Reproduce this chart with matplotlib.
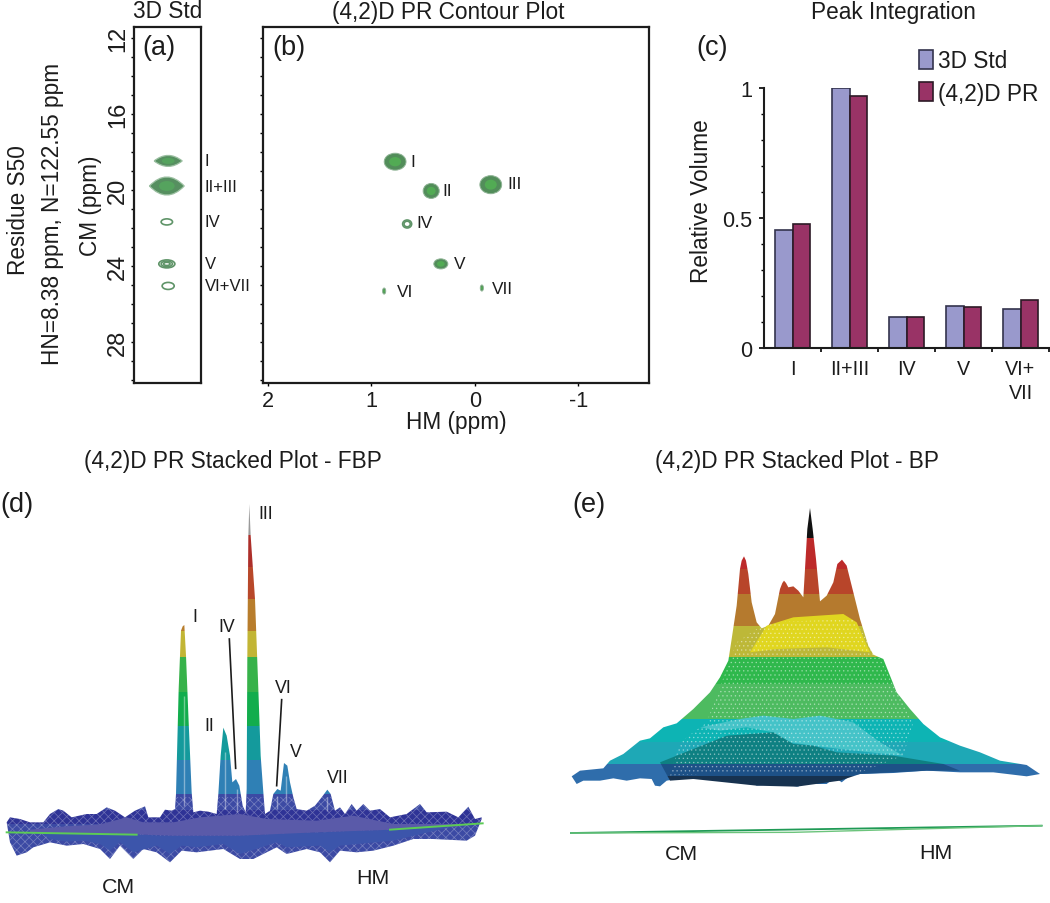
import matplotlib
matplotlib.use("Agg")
import matplotlib.pyplot as plt
from matplotlib.patches import Ellipse, PathPatch, Polygon, Rectangle
from matplotlib.path import Path

W, H = 1050, 904
plt.rcParams["font.family"] = ["Liberation Sans", "DejaVu Sans"]
plt.rcParams["hatch.linewidth"] = 0.5
INK = "#1c1c1c"

# panel (a), 3D standard: label, position, CM ppm, width, height in ppm, rings (0 = filled)
a_labels = ["I", "II+III", "IV", "V", "VI+VII"]
a_pos = [0.51, 0.49, 0.49, 0.49, 0.51]
a_cm = [18.47, 19.79, 21.68, 23.89, 25.05]
a_w = [0.42, 0.52, 0.17, 0.24, 0.18]
a_h = [0.58, 0.95, 0.32, 0.42, 0.37]
a_rings = [0, 0, 1, 3, 1]

# panel (b), (4,2)D PR peaks
b_labels = ["I", "II", "III", "IV", "V", "VI", "VII"]
b_hm = [0.769, 0.421, -0.154, 0.653, 0.328, 0.875, -0.068]
b_cm = [18.51, 20.05, 19.72, 21.79, 23.89, 25.32, 25.16]
b_w = [0.21, 0.155, 0.21, 0.087, 0.135, 0.03, 0.03]
b_h = [0.89, 0.79, 0.95, 0.42, 0.53, 0.32, 0.32]
b_rings = [0, 0, 0, 2, 0, 0, 0]
b_xticks = [2, 1, 0, -1]

# panel (c), peak integration
c_cats = ["I", "II+III", "IV", "V", "VI+\nVII"]
c_std = [0.455, 1.0, 0.118, 0.16, 0.15]
c_pr = [0.478, 0.97, 0.118, 0.157, 0.186]

# panel (d), FBP stack (position, screen level)
d_top_x = [20, 30, 60, 90, 130, 150, 175, 190, 215, 260, 290, 320, 345, 375, 405, 435, 445, 480, 495, 515,
           525, 528, 536, 543, 548, 553, 558, 566, 575, 580, 600, 625, 650, 655, 662, 670, 680, 690, 697, 708, 718,
           728, 737, 740, 742, 745, 748, 752, 765, 775, 782, 790, 795, 810, 820, 832, 842, 852, 862, 870, 880,
           890, 920, 945, 965, 982, 992, 1005, 1020, 1035, 1055, 1070, 1090, 1110, 1140, 1170, 1220, 1260, 1280,
           1340, 1375, 1405, 1425, 1445]
d_top_y = [1000, 985, 990, 1000, 1000, 975, 960, 965, 985, 975, 975, 955, 965, 985, 965, 952, 985, 985, 962, 965,
           960, 915, 600, 425, 412, 408, 500, 700, 910, 970, 965, 968, 975, 915, 800, 716, 740, 800, 880, 870, 890,
           950, 970, 900, 500, 140, 45, 140, 330, 600, 800, 910, 975, 965, 915, 900, 905, 822, 830, 880, 925,
           960, 965, 950, 925, 902, 915, 965, 955, 975, 945, 965, 945, 965, 960, 985, 975, 945, 970,
           968, 985, 953, 990, 985]
d_bot_x = [1445, 1425, 1400, 1300, 1240, 1180, 1120, 1070, 1020, 990, 960, 920, 860, 830, 800, 760, 720, 670, 630,
           590, 545, 510, 470, 430, 400, 360, 330, 300, 250, 200, 150, 100, 80, 50, 30, 20]
d_bot_y = [990, 1040, 1055, 1050, 1050, 1070, 1085, 1090, 1085, 1120, 1090, 1080, 1095, 1075, 1090, 1110, 1110, 1080, 1085,
           1090, 1085, 1120, 1090, 1080, 1110, 1070, 1110, 1080, 1065, 1070, 1060, 1075, 1090, 1100, 1060, 1000]
d_band_edges = [45, 138, 235, 330, 425, 505, 610, 712, 812, 915, 962, 1005, 1130]
d_band_cols = ["#9a9a9a", "#ad2f2a", "#b8482a", "#b87d2c", "#c2b535", "#37b24a", "#12ad4d", "#149a9c", "#2f80b5",
               "#3c4aa4", "#2f3396", "#3c4aa4"]
d_mid_x = [90, 200, 300, 380, 430, 520, 600, 720, 800, 950, 1060, 1180, 1380, 1380, 1180, 950, 720, 520, 380, 200, 90]
d_mid_y = [1022, 1012, 1006, 985, 1000, 1000, 985, 975, 990, 995, 980, 1005, 1005, 1012, 1022, 1030, 1040, 1040, 1035, 1032, 1030]
d_low_x = [120, 230, 290, 380, 420, 480, 520, 590, 650, 700, 760, 830, 900, 970, 1040, 1180, 1360,
           1180, 1020, 990, 960, 860, 830, 800, 720, 670, 590, 545, 510, 470, 400, 360, 330, 300, 250, 200, 150]
d_low_y = [1030, 1032, 1033, 1035, 1037, 1040, 1040, 1040, 1040, 1040, 1038, 1034, 1030, 1030, 1026, 1022, 1012,
           1055, 1070, 1090, 1070, 1075, 1060, 1070, 1095, 1065, 1075, 1070, 1095, 1070, 1090, 1060, 1085, 1065, 1055, 1058, 1050]
d_streak_x = [551, 674, 712, 832, 858, 982]
d_streak_top = [620, 790, 900, 920, 860, 925]
d_streak_bot = [950, 960, 970, 960, 940, 965]

# panel (e), BP stack
e_top_x = [35, 60, 130, 150, 190, 240, 270, 310, 350, 400, 450, 480, 505, 515, 530, 540, 545, 552, 558, 565, 575, 590, 605,
           625, 645, 660, 667, 672, 678, 685, 700, 715, 730, 735, 742, 750, 758, 768, 780, 800, 820, 832, 846, 860, 875, 900,
           925, 940, 970, 990, 1010, 1050, 1090, 1140, 1200, 1260, 1320, 1400, 1440]
e_top_y = [862, 845, 838, 815, 795, 755, 748, 715, 703, 660, 610, 565, 515, 450, 350, 240, 215, 202, 215, 255, 340, 400, 418,
           410, 375, 300, 282, 275, 282, 295, 292, 305, 325, 240, 120, 57, 120, 210, 337, 320, 280, 225, 212, 230, 290, 390,
           470, 497, 510, 560, 610, 660, 705, 745, 770, 790, 815, 828, 855]
e_bot_x = [1440, 1400, 1300, 1200, 1100, 1000, 900, 870, 845, 825, 800, 770, 745, 715, 680, 640, 590, 575, 530, 480, 440, 410,
           395, 360, 320, 300, 285, 275, 240, 200, 160, 120, 70, 50, 35]
e_bot_y = [855, 862, 850, 850, 845, 852, 855, 860, 880, 865, 885, 885, 855, 893, 888, 885, 890, 880, 868, 860, 868, 868,
           860, 868, 875, 892, 890, 870, 868, 875, 868, 875, 875, 885, 862]
e_band_edges = [57, 148, 240, 315, 410, 505, 585, 690, 760, 825, 900]
e_band_cols = ["#111111", "#bd2a2a", "#b8452a", "#b57a2e", "#bdb838", "#2fb84c", "#4dbb60", "#0db4b4", "#1ea8b6", "#2f6dab"]
e_front_x = [300, 400, 500, 640, 700, 760, 830, 1000, 1150, 1200, 1100, 900, 840, 710, 590, 400, 330]
e_front_y = [820, 780, 740, 730, 765, 770, 790, 800, 825, 845, 845, 855, 875, 893, 890, 870, 875]
e_front_edges = [700, 825, 860, 900]
e_front_cols = ["#0e8082", "#1d5187", "#17324f"]
e_yellow_x = [570, 620, 700, 850, 890, 930, 800, 650]
e_yellow_y = [490, 410, 385, 375, 400, 490, 475, 480]
e_glow_x = [420, 540, 610, 700, 780, 880, 960, 1030, 930, 840, 760, 690, 640, 560, 480]
e_glow_y = [715, 690, 680, 690, 680, 700, 760, 800, 790, 780, 770, 760, 730, 715, 725]
e_mesh_x = [530, 620, 880, 960, 1060, 1030, 900, 420, 330, 360, 440]
e_mesh_y = [460, 400, 390, 510, 700, 800, 850, 855, 860, 760, 700]


def px_axes(x0, y0, x1, y1):
    # axes placed by the pixel box it has in the figure
    return fig.add_axes([x0 / W, 1 - y1 / H, (x1 - x0) / W, (y1 - y0) / H])


def label(x, y, s, size=16.3, **kw):
    kw.setdefault("ha", "center")
    fig.text(x / W, 1 - y / H, s, fontsize=size, color=INK, va="center", **kw)


def lens(x, y, w, h, **kw):
    # pointed ended blob, the shape of the strong contour peaks
    verts = [(x - w / 2, y), (x, y - h), (x + w / 2, y), (x, y + h), (x - w / 2, y)]
    codes = [Path.MOVETO, Path.CURVE3, Path.CURVE3, Path.CURVE3, Path.CURVE3]
    return PathPatch(Path(verts, codes), **kw)


def draw_peak(ax, x, y, w, h, rings, pointed=False):
    if rings == 0 and pointed:
        ax.add_patch(lens(x, y, w, h, fc="#568f60", ec="#9cc0a2", lw=0.9))
        ax.add_patch(Ellipse((x, y), w * 0.45, h * 0.55, fc="#55a35e", ec="none"))
    elif rings == 0:
        ax.add_patch(Ellipse((x, y), w, h, fc="#528d5a", ec="#8eb394", lw=0.7))
        ax.add_patch(Ellipse((x, y), w * 0.55, h * 0.55, fc="#52ab54", ec="none"))
    else:
        for k in range(rings):
            frac = 1 - k * 0.3
            ax.add_patch(Ellipse((x, y), w * frac, h * frac, fc="none", ec="#5f9468", lw=1.2))


def stack_panel(ax, xs, ys, edges, cols):
    # colour bands of a stacked plot, clipped to the outline of the surface
    outline = Polygon(list(zip(xs, ys)), closed=True, fc="none", ec="none")
    ax.add_patch(outline)
    for lo, hi, c in zip(edges[:-1], edges[1:], cols):
        band = ax.axhspan(lo, hi, color=c, lw=0)
        band.set_clip_path(outline)
    return outline


fig = plt.figure(figsize=(W / 100, H / 100), dpi=100)

# (a)
ax = px_axes(134, 28, 201, 384)
for i in range(len(a_cm)):
    draw_peak(ax, a_pos[i], a_cm[i], a_w[i], a_h[i], a_rings[i], pointed=True)
ax.set_xlim(0, 1)
ax.set_ylim(30.16, 11.42)
ax.set_xticks([])
ax.set_yticks(range(12, 31, 4))
ax.set_yticklabels(["12", "16", "20", "24", "28"], rotation=90, va="center", fontsize=17, color=INK)
ax.set_yticks(range(12, 31), minor=True)
ax.tick_params(axis="y", which="major", length=2.5, width=1, pad=1)
ax.tick_params(axis="y", which="minor", length=2, width=1)
for s in ax.spines.values():
    s.set_linewidth(1.6)
    s.set_color(INK)
for i, name in enumerate(a_labels):
    label(205, 39 + (a_cm[i] - 12) * 19, name, size=12, ha="left")

# (b)
ax = px_axes(263, 28, 648.7, 384)
for i in range(len(b_hm)):
    draw_peak(ax, b_hm[i], b_cm[i], b_w[i], b_h[i], b_rings[i])
ax.set_xlim(2.044, -1.678)
ax.set_ylim(30.16, 11.42)
ax.set_xticks(b_xticks)
ax.set_xticklabels([str(v) for v in b_xticks], fontsize=15.6, color=INK)
ax.set_yticks(range(12, 31))
ax.set_yticklabels([])
ax.tick_params(axis="both", length=2, width=1, pad=3)
for s in ax.spines.values():
    s.set_linewidth(1.6)
    s.set_color(INK)
b_off = [15, 11, 17, 9, 13, 13, 10]
b_rise = [0, 0, -1, -2, 0, 0, 0]
for i, name in enumerate(b_labels):
    fx = 474.7 - b_hm[i] * 103.7 + b_off[i]
    fy = 39 + (b_cm[i] - 12) * 19 + b_rise[i]
    label(fx, fy, name, size=12.4, ha="left")

# (c)
ax = px_axes(764, 88.7, 1049, 349)
xpos = [i + 0.5 for i in range(len(c_cats))]
ax.bar([x - 0.15 for x in xpos], c_std, 0.3, color="#9999cc", edgecolor="#33334d", lw=1.2, label="3D Std")
ax.bar([x + 0.15 for x in xpos], c_pr, 0.3, color="#993366", edgecolor="#2c1a26", lw=1.2, label="(4,2)D PR")
ax.set_xlim(0, 5)
ax.set_ylim(0, 1)
ax.set_yticks([0, 0.5, 1])
ax.set_yticklabels(["0", "0.5", "1"], fontsize=15.6, color=INK)
ax.set_yticks([i / 10 for i in range(11)], minor=True)
ax.set_xticks(range(1, 6))
ax.set_xticklabels([])
ax.set_xticks(xpos, minor=True)
ax.set_xticklabels(c_cats, minor=True, fontsize=14.2, color=INK, linespacing=1.3)
ax.tick_params(axis="x", which="minor", length=0, pad=8)
ax.tick_params(axis="x", which="major", length=3, width=1.2)
ax.tick_params(axis="y", which="major", length=3.5, width=1.2, pad=5)
ax.tick_params(axis="y", which="minor", length=2, width=1)
for s in ["top", "right"]:
    ax.spines[s].set_visible(False)
for s in ["left", "bottom"]:
    ax.spines[s].set_linewidth(1.5)
    ax.spines[s].set_color(INK)
leg = ax.legend(loc="upper left", bbox_to_anchor=(919 / W, 1 - 50 / H), bbox_transform=fig.transFigure,
                frameon=False, fontsize=16.3, handlelength=0.62, handleheight=0.9, handletextpad=0.22,
                labelspacing=0.42, borderpad=0, borderaxespad=0, labelcolor=INK)

# (d)
ax = px_axes(0, 490, 500, 904)
ax.set_xlim(0, 1500)
ax.set_ylim(1242, 0)
ax.axis("off")
stack_panel(ax, d_top_x + d_bot_x, d_top_y + d_bot_y, d_band_edges, d_band_cols)
d_mesh = Polygon(list(zip(d_top_x + d_bot_x, d_top_y + d_bot_y)), closed=True, fc="none", ec="#ffffff",
                 hatch="xxxx", lw=0, alpha=0.3)
ax.add_patch(d_mesh)
d_mesh.set_clip_path(Rectangle((0, 925), 1500, 300, transform=ax.transData))
ax.fill(d_low_x, d_low_y, color="#3c55ab", lw=0)
ax.fill(d_mid_x, d_mid_y, color="#5a5aa9", lw=0)
ax.vlines(d_streak_x, d_streak_top, d_streak_bot, color="white", lw=1.0, alpha=0.4)
ax.plot([20, 410], [1030, 1037], color="#5ccb55", lw=1.4)
ax.plot([1170, 1448], [1022, 1003], color="#5ccb55", lw=1.4)
ax.plot([688, 707], [450, 838], color=INK, lw=1.2)
ax.plot([845, 830], [632, 890], color=INK, lw=1.2)

# (e)
ax = px_axes(560, 490, 1050, 904)
ax.set_xlim(0, 1470)
ax.set_ylim(1242, 0)
ax.axis("off")
stack_panel(ax, e_top_x + e_bot_x, e_top_y + e_bot_y, e_band_edges, e_band_cols)
ax.fill(e_yellow_x, e_yellow_y, color="#e0d61f", lw=0)
ax.fill(e_glow_x, e_glow_y, color="#45c3c8", lw=0)
stack_panel(ax, e_front_x, e_front_y, e_front_edges, e_front_cols)
ax.add_patch(Polygon(list(zip(e_mesh_x, e_mesh_y)), closed=True, fc="none", ec="white",
                     hatch="....", lw=0, alpha=0.4))
ax.plot([33, 1445], [1032, 1010], color="#1f9a55", lw=1.3)
ax.plot([33, 700, 1445], [1032, 1030, 1010], color="#6cc47c", lw=1.0)

# titles and labels of the whole figure
label(168, 12, "3D Std")
label(448, 12, "(4,2)D PR Contour Plot")
label(893, 12, "Peak Integration")
label(233, 462, "(4,2)D PR Stacked Plot - FBP")
label(797, 462, "(4,2)D PR Stacked Plot - BP")
label(19, 210, "Residue S50", rotation=90)
label(53, 214, "HN=8.38 ppm, N=122.55 ppm", rotation=90)
label(90, 206, "CM (ppm)", rotation=90)
label(456, 423, "HM (ppm)")
label(702, 201, "Relative Volume", rotation=90)
label(159, 48, "(a)", size=19.5)
label(289, 48, "(b)", size=19.5)
label(712, 48, "(c)", size=19.5)
label(17, 505, "(d)", size=19.5)
label(589, 505, "(e)", size=19.5)

# peak labels of the stacked plot (d)
d_names = ["I", "III", "IV", "II", "VI", "V", "VII"]
d_lx = [195, 266, 227, 209, 283, 296, 338]
d_ly = [618, 515, 628, 727, 689, 753, 779]
for x, y, s in zip(d_lx, d_ly, d_names):
    label(x, y, s, size=12.8)
label(118, 888, "CM", size=15.4)
label(373, 879, "HM", size=15.4)
label(681, 855, "CM", size=15.4)
label(936, 854, "HM", size=15.4)

fig.savefig("out.png", dpi=100)
